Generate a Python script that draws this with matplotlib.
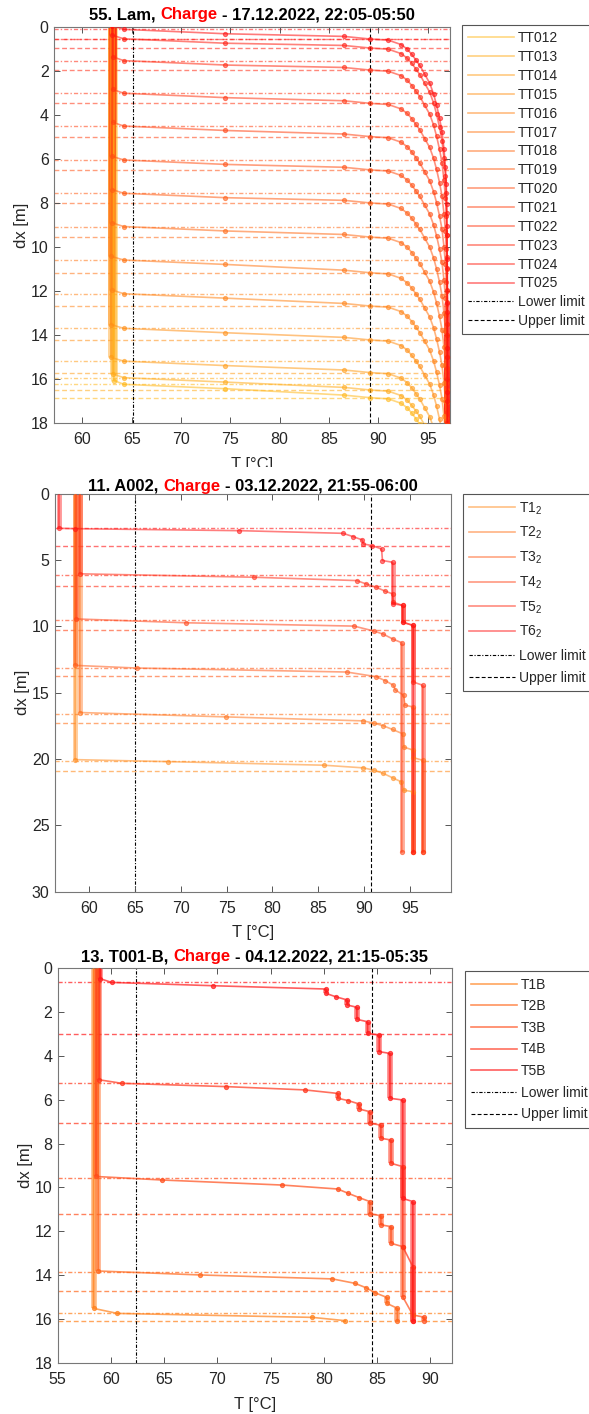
import matplotlib
matplotlib.use("Agg")
import matplotlib.pyplot as plt
from matplotlib.patches import Rectangle
from matplotlib.transforms import IdentityTransform

plt.rcParams['font.family'] = ['Liberation Sans', 'DejaVu Sans']
plt.rcParams['mathtext.default'] = 'regular'

W_PX, H_PX = 589, 1414

# ---------------- panel 1 : 55. Lam ----------------
P1_TITLE = ["55. Lam,", "Charge", "- 17.12.2022, 22:05-05:50"]
P1_SENSORS = ['TT012', 'TT013', 'TT014', 'TT015', 'TT016', 'TT017', 'TT018',
              'TT019', 'TT020', 'TT021', 'TT022', 'TT023', 'TT024', 'TT025']
P1_COLUMN_T = [63.2, 63.1, 62.9, 62.9, 63.0, 62.9, 63.0, 63.0, 63.0, 63.1, 63.1, 63.1, 63.0, 63.0]
P1_LOWER_DX = [16.23, 15.93, 15.18, 13.69, 12.12, 10.59, 9.07, 7.56, 6.05, 4.51, 3.02, 1.54, 0.55, 0.12]
P1_UPPER_DX = [16.84, 16.49, 15.70, 14.22, 12.68, 11.17, 9.55, 8.00, 6.50, 4.99, 3.48, 1.97, 0.97, 0.56]
# front shape (same for every sensor): T at lower depth, +0.2, upper-0.12, upper
P1_FRONT_T = [64.2, 74.5, 86.5, 89.2]
# curve below the upper limit crossing, depth given from the crossing
P1_TAIL_DDX = [0.05, 0.25, 0.45, 0.7, 0.95, 1.2, 1.6, 2.0, 2.5, 3.0, 3.6, 4.2, 5.0,
               5.8, 6.6, 7.5, 8.5, 10.0, 12.0, 14.0, 16.0, 18.0]
P1_TAIL_T = [91.0, 92.3, 92.9, 93.4, 93.8, 94.2, 94.7, 95.2, 95.6, 95.9, 96.2, 96.45, 96.65,
             96.8, 96.88, 96.93, 96.96, 96.98, 97.0, 97.0, 97.0, 97.0]
P1_LIMITS = [65.1, 89.15]

# ---------------- panel 2 : 11. A002 ----------------
P2_TITLE = ["11. A002,", "Charge", "- 03.12.2022, 21:55-06:00"]
P2_SENSORS = ['T1$_2$', 'T2$_2$', 'T3$_2$', 'T4$_2$', 'T5$_2$', 'T6$_2$']
P2_LOWER_DX = [20.14, 16.58, 13.15, 9.56, 6.13, 2.62]
P2_UPPER_DX = [20.92, 17.26, 13.75, 10.32, 6.98, 3.97]
P2_T1_T = [58.48, 58.48, 68.6, 85.6, 89.9, 91.05, 92.1, 93.1, 94.05, 94.3, 95.35, 95.35]
P2_T1_DX = [0.0, 20.05, 20.2, 20.47, 20.67, 20.84, 21.09, 21.42, 21.72, 22.35, 22.47, 27.0]
P2_T2_T = [59.0, 59.0, 74.9, 89.9, 91.05, 92.1, 93.1, 94.2, 94.3, 95.35, 95.35, 96.4, 96.4]
P2_T2_DX = [0.0, 16.5, 16.83, 17.13, 17.3, 17.5, 17.78, 18.1, 19.1, 19.33, 19.9, 20.1, 27.0]
P2_T3_T = [58.5, 58.5, 65.2, 88.1, 91.3, 92.3, 93.2, 93.4, 94.3, 94.45, 95.35, 95.35]
P2_T3_DX = [0.0, 12.95, 13.15, 13.45, 13.8, 14.1, 14.45, 14.8, 15.2, 15.95, 16.08, 27.0]
P2_T4_T = [58.6, 58.6, 70.6, 88.9, 91.05, 92.1, 93.2, 94.1, 94.1]
P2_T4_DX = [0.0, 9.45, 9.74, 9.99, 10.36, 10.6, 10.99, 11.24, 27.0]
P2_T5_T = [59.0, 59.0, 78.0, 89.2, 90.2, 91.3, 92.3, 93.1, 93.2, 94.2, 94.2, 95.35, 95.35, 96.4, 96.4]
P2_T5_DX = [0.0, 6.05, 6.31, 6.56, 6.81, 7.06, 7.36, 7.56, 8.2, 8.43, 9.7, 9.94, 14.2, 14.45, 27.0]
P2_T6_T = [56.72, 56.72, 58.5, 76.4, 87.7, 88.8, 89.8, 89.9, 90.85, 91.9, 92.0, 93.1, 93.1,
           94.2, 94.2, 95.35, 95.35]
P2_T6_DX = [0.0, 2.62, 2.65, 2.8, 3.0, 3.25, 3.5, 3.8, 3.92, 4.18, 5.05, 5.18, 8.3,
            8.43, 9.69, 9.94, 27.0]
P2_LIMITS = [65.0, 90.8]

# ---------------- panel 3 : 13. T001-B ----------------
P3_TITLE = ["13. T001-B,", "Charge", "- 04.12.2022, 21:15-05:35"]
P3_SENSORS = ['T1B', 'T2B', 'T3B', 'T4B', 'T5B']
P3_LOWER_DX = [15.73, 13.83, 9.58, 5.26, 0.67]
P3_UPPER_DX = [16.06, 14.70, 11.20, 7.08, 3.00]
P3_T1_T = [58.37, 58.37, 60.6, 78.9, 82.0]
P3_T1_DX = [0.0, 15.5, 15.73, 15.91, 16.06]
P3_T2_T = [58.8, 58.8, 68.35, 80.8, 82.9, 83.95, 84.8, 85.9, 85.9, 86.9, 86.9]
P3_T2_DX = [0.0, 13.8, 13.98, 14.16, 14.36, 14.56, 14.79, 15.0, 15.27, 15.5, 16.06]
P3_T3_T = [58.6, 58.6, 64.8, 76.1, 81.3, 82.3, 83.3, 84.3, 84.3, 85.35, 85.35, 86.3, 86.3,
           87.4, 87.4, 88.35, 89.4, 89.4]
P3_T3_DX = [0.0, 9.5, 9.66, 9.89, 10.07, 10.27, 10.46, 10.64, 11.2, 11.28, 11.7, 11.78, 12.54,
            12.69, 14.97, 15.8, 15.9, 16.06]
P3_T4_T = [58.9, 58.9, 61.0, 70.8, 78.2, 81.3, 81.3, 82.3, 83.3, 83.3, 84.3, 84.3, 85.35, 85.35,
           86.3, 86.3, 87.4, 87.4, 88.35, 88.35]
P3_T4_DX = [0.0, 5.1, 5.26, 5.41, 5.56, 5.72, 5.94, 6.05, 6.2, 6.43, 6.55, 7.08, 7.16, 7.76,
            7.84, 8.9, 9.05, 12.69, 13.6, 16.06]
P3_T5_T = [59.0, 59.0, 60.06, 69.6, 80.2, 80.2, 81.1, 82.2, 82.2, 83.1, 83.1, 84.1, 84.1, 85.2,
           85.2, 86.2, 86.2, 87.4, 87.4, 88.35, 88.35]
P3_T5_DX = [0.0, 0.5, 0.67, 0.82, 0.97, 1.17, 1.32, 1.47, 1.70, 1.80, 2.35, 2.46, 2.99, 3.06,
            3.82, 3.9, 5.94, 6.02, 10.5, 10.64, 16.06]
P3_LIMITS = [62.35, 84.55]

DASHDOT = (0, (3, 1.5, 1, 1.5))
DASHED = (0, (3.5, 2))


def ramp(c0, c1, n):
    return [tuple(a + (b - a) * k / (n - 1) for a, b in zip(c0, c1)) for k in range(n)]


def draw_profile(ax, t, dx, color, alpha, label, band_lw):
    # vertical runs are dense chains of markers in the original
    for k in range(len(t) - 1):
        if t[k] == t[k + 1]:
            ax.plot(t[k:k + 2], dx[k:k + 2], color=color, alpha=alpha * 0.8, lw=band_lw,
                    solid_capstyle='butt', zorder=2)
    line, = ax.plot(t, dx, color=color, alpha=alpha, lw=1.2, label=label, zorder=3)
    ax.plot(t[1:], dx[1:], 'o', color=color, alpha=alpha, ms=3, mew=0.8, zorder=3)
    return line


def style_axes(ax, xlim, xticks, ylim, yticks):
    ax.set_xlim(xlim)
    ax.set_ylim(ylim)
    ax.set_xticks(xticks)
    ax.set_yticks(yticks)
    ax.tick_params(direction='in', length=4, width=0.7, color='#555555', top=True, right=True,
                   labelsize=11.5, labelcolor='#262626')
    ax.tick_params(axis='x', pad=6.5)
    ax.tick_params(axis='y', pad=4)
    for s in ax.spines.values():
        s.set_color('#777777')
        s.set_linewidth(0.8)
    ax.set_xlabel('T [°C]', fontsize=12, color='#262626', labelpad=7)
    ax.set_ylabel('dx [m]', fontsize=12, color='#262626', labelpad=1)


def add_limits(ax, limits):
    lo = ax.axvline(limits[0], color='black', lw=0.8, ls=DASHDOT, label='Lower limit', zorder=1)
    up = ax.axvline(limits[1], color='black', lw=0.8, ls=DASHED, label='Upper limit', zorder=1)
    return [lo, up]


def add_marks(ax, lower, upper, colors, alpha):
    for L, U, c in zip(lower, upper, colors):
        ax.axhline(L, color=c, alpha=alpha, lw=1.0, ls=DASHDOT, zorder=1)
        ax.axhline(U, color=c, alpha=alpha, lw=1.0, ls=DASHED, zorder=1)


def colored_title(fig, parts, xc, yc, size=12):
    r = fig.canvas.get_renderer()
    kw = dict(fontsize=size, fontweight='bold', va='center', transform=IdentityTransform(),
              zorder=10)
    probe = fig.text(0, 0, ' '.join(parts), **kw)
    w_full = probe.get_window_extent(r).width
    probe2 = fig.text(0, 0, parts[0] + ' ' + parts[1], **kw)
    w_head = probe2.get_window_extent(r).width
    probe.remove()
    probe2.remove()
    y = H_PX - yc
    left = xc - w_full / 2
    fig.text(left, y, parts[0], ha='left', color='black', **kw)
    fig.text(left + w_head, y, parts[1], ha='right', color='red', **kw)
    fig.text(left + w_full, y, parts[2], ha='right', color='black', **kw)


def add_legend(ax, fig, handles, x_px, y_px, spacing):
    leg = ax.legend(handles=handles, loc='upper left',
                    bbox_to_anchor=(x_px / W_PX, 1 - y_px / H_PX), bbox_transform=fig.transFigure,
                    fontsize=10, handlelength=3.3, handletextpad=0.3, labelspacing=spacing,
                    borderpad=0.45, borderaxespad=0, fancybox=False, edgecolor='#555555',
                    framealpha=1)
    leg.get_frame().set_linewidth(0.8)
    for t in leg.get_texts():
        t.set_color('#262626')


def axes_rect(left, right, top, bottom):
    return [left / W_PX, 1 - bottom / H_PX, (right - left) / W_PX, (bottom - top) / H_PX]


def main():
    fig = plt.figure(figsize=(W_PX / 100, H_PX / 100), dpi=100)

    # panel 1
    ax1 = fig.add_axes(axes_rect(54.3, 450.0, 26.7, 423.3))
    c1 = ramp((1.0, 0.72, 0.10), (1.0, 0.05, 0.05), len(P1_SENSORS))
    add_marks(ax1, P1_LOWER_DX, P1_UPPER_DX, c1, 0.55)
    lines = []
    for k, name in enumerate(P1_SENSORS):
        L, U, col = P1_LOWER_DX[k], P1_UPPER_DX[k], P1_COLUMN_T[k]
        t = [col, col] + P1_FRONT_T + P1_TAIL_T
        dx = [0.0, L - 0.17, L, L + 0.2, U - 0.12, U] + [U + d for d in P1_TAIL_DDX]
        lines.append(draw_profile(ax1, t, dx, c1[k], 0.55, name, 5.0))
    lims = add_limits(ax1, P1_LIMITS)
    style_axes(ax1, (57.16, 97.26), range(60, 96, 5), (18, 0), range(0, 19, 2))
    add_legend(ax1, fig, lines + lims, 462, 25, 0.35)

    # panel 2
    ax2 = fig.add_axes(axes_rect(55.0, 450.7, 493.5, 891.7))
    c2 = ramp((1.0, 0.55, 0.12), (1.0, 0.08, 0.08), len(P2_SENSORS))
    add_marks(ax2, P2_LOWER_DX, P2_UPPER_DX, c2, 0.6)
    prof2 = [(P2_T1_T, P2_T1_DX), (P2_T2_T, P2_T2_DX), (P2_T3_T, P2_T3_DX),
             (P2_T4_T, P2_T4_DX), (P2_T5_T, P2_T5_DX), (P2_T6_T, P2_T6_DX)]
    lines = []
    for k, (t, dx) in enumerate(prof2):
        lines.append(draw_profile(ax2, t, dx, c2[k], 0.55, P2_SENSORS[k], 3.5))
    lims = add_limits(ax2, P2_LIMITS)
    style_axes(ax2, (56.29, 99.44), range(60, 96, 5), (30, 0), range(0, 31, 5))
    add_legend(ax2, fig, lines + lims, 462.7, 494, 0.6)

    # panel 3
    ax3 = fig.add_axes(axes_rect(57.7, 451.7, 967.7, 1363.3))
    c3 = ramp((1.0, 0.50, 0.10), (1.0, 0.10, 0.10), len(P3_SENSORS))
    add_marks(ax3, P3_LOWER_DX, P3_UPPER_DX, c3, 0.7)
    prof3 = [(P3_T1_T, P3_T1_DX), (P3_T2_T, P3_T2_DX), (P3_T3_T, P3_T3_DX),
             (P3_T4_T, P3_T4_DX), (P3_T5_T, P3_T5_DX)]
    lines = []
    for k, (t, dx) in enumerate(prof3):
        lines.append(draw_profile(ax3, t, dx, c3[k], 0.7, P3_SENSORS[k], 4.0))
    lims = add_limits(ax3, P3_LIMITS)
    style_axes(ax3, (55, 92), range(55, 91, 5), (18, 0), range(0, 19, 2))
    add_legend(ax3, fig, lines + lims, 464.7, 971.3, 0.55)

    # the first panel's x label is cut off by the panel below it in the source image
    fig.add_artist(Rectangle((0, 1 - 477 / H_PX), 1, 10 / H_PX, transform=fig.transFigure,
                             facecolor='white', edgecolor='none', zorder=5))

    colored_title(fig, P1_TITLE, (54.3 + 450.0) / 2, 15)
    colored_title(fig, P2_TITLE, (55.0 + 450.7) / 2, 486)
    colored_title(fig, P3_TITLE, (57.7 + 451.7) / 2, 956.7)

    fig.savefig('out.png', dpi=100)


if __name__ == "__main__":
    main()
